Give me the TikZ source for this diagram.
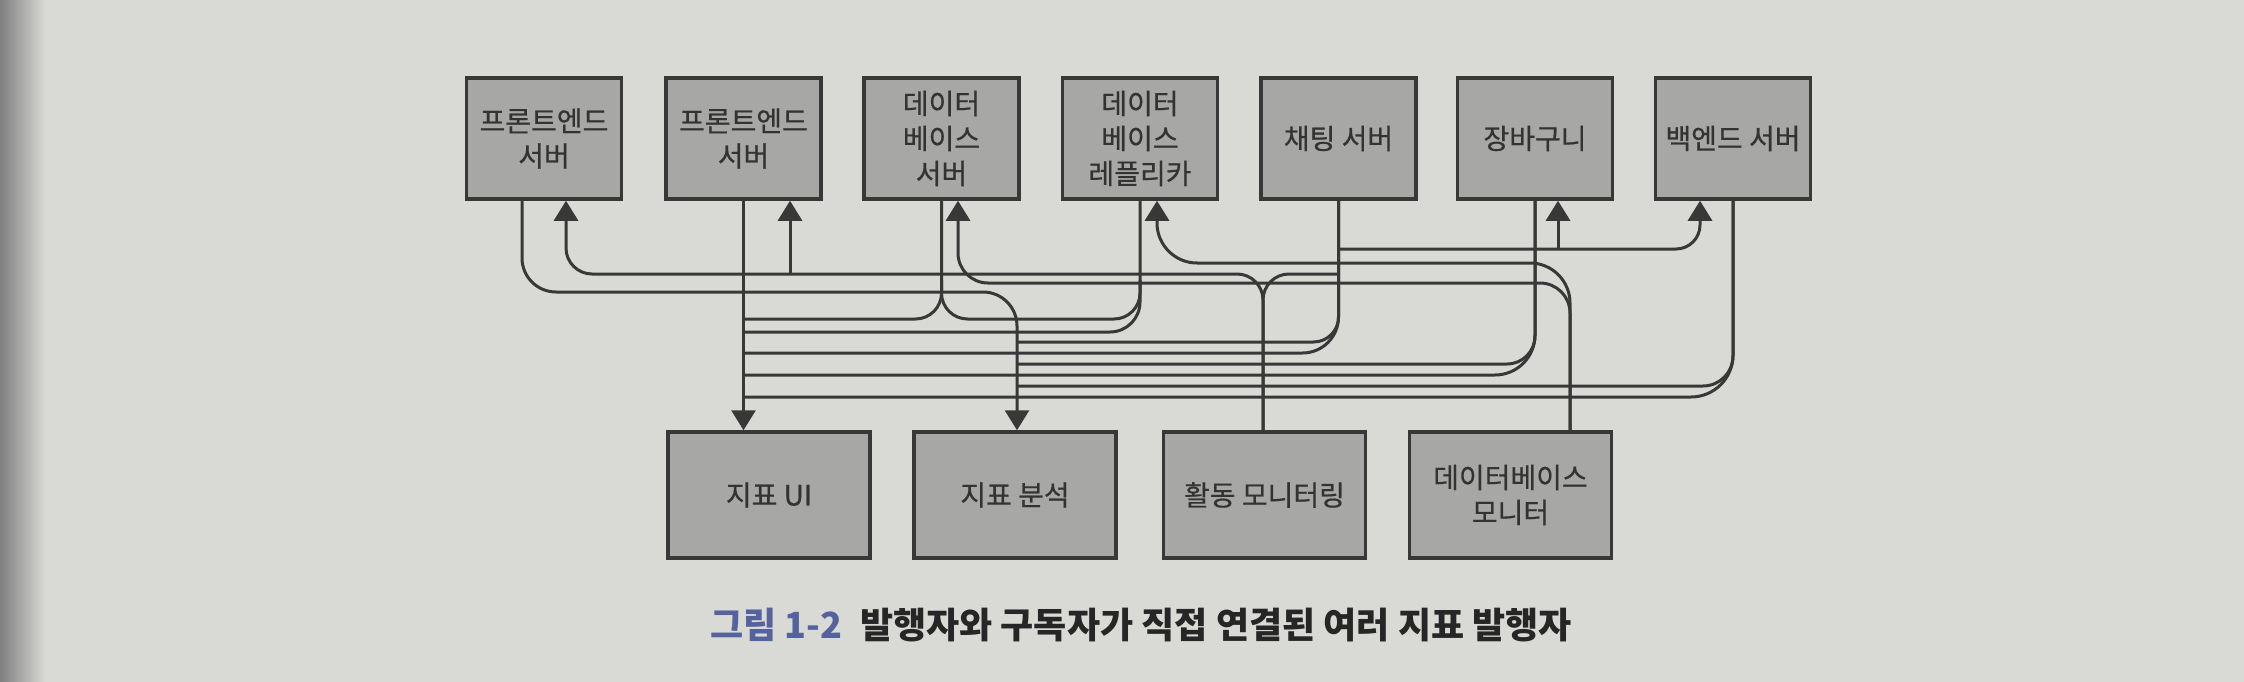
\documentclass[tikz,border=0pt]{standalone}
\usepackage{fontspec}
\usetikzlibrary{arrows.meta}
\newfontfamily\krfont[FakeBold=0.6]{Noto Sans CJK KR}
\newfontfamily\krtitel{Noto Sans CJK KR}
\definecolor{seite}{HTML}{D9D9D5}
\definecolor{kastengrau}{HTML}{A7A7A5}
\definecolor{linie}{HTML}{383838}
\definecolor{bildblau}{HTML}{55639C}

\begin{document}
\begin{tikzpicture}[x=1pt,y=-1pt,
    kasten/.style={draw=linie, line width=3.5pt, fill=kastengrau,
        minimum width=155pt, minimum height=121pt, inner sep=0pt,
        align=center, text=black!80,
        font=\krfont\fontsize{28}{35}\selectfont},
    unten/.style={kasten, minimum width=202pt, minimum height=126pt},
    leitung/.style={draw=linie, line width=3pt},
    pfeil/.style={-{Triangle[length=20pt,width=24pt]}}]
    \useasboundingbox (0,0) rectangle (2244,682);
    % Seite:
    \fill[seite] (0,0) rectangle (2244,682);
    \shade[left color=black!50, right color=seite] (0,0) rectangle (45,682);

    % obere Kästen:
    \node[kasten] (fe1) at (544,138.5) {프론트엔드\\서버};
    \node[kasten] (fe2) at (743.5,138.5) {프론트엔드\\서버};
    \node[kasten] (db) at (941.5,138.5) {데이터\\베이스\\서버};
    \node[kasten] (dbr) at (1140,138.5) {데이터\\베이스\\레플리카};
    \node[kasten] (chat) at (1338.5,138.5) {채팅 서버};
    \node[kasten] (cart) at (1535,138.5) {장바구니};
    \node[kasten] (be) at (1733,138.5) {백엔드 서버};

    % untere Kästen:
    \node[unten] (mui) at (769,495) {지표 UI};
    \node[unten] (man) at (1015,495) {지표 분석};
    \node[unten] (amon) at (1264.5,495) {활동 모니터링};
    \node[unten] (dbmon) at (1510.5,495) {데이터베이스\\모니터};

    % Leitungen nach unten:
    \draw[leitung, rounded corners=34pt, pfeil] ([xshift=-22pt]fe1.south)
        -- (522,292) -- (1017,292) -- ([xshift=2pt]man.north);
    \draw[leitung, pfeil] (fe2.south) -- (fe2.south |- mui.north);
    \draw[leitung, rounded corners=26pt] (db.south) -- (941.5,319) -- (743.5,319);
    \draw[leitung, rounded corners=26pt] (941.5,280) -- (941.5,319)
        -- (1140,319) -- (1140,280);
    \draw[leitung, rounded corners=30pt] (dbr.south) -- (1140,332) -- (743.5,332);
    \draw[leitung, rounded corners=25pt] (chat.south) -- (1338.5,342) -- (1017,342);
    \draw[leitung, rounded corners=36pt] (chat.south) -- (1338.5,353) -- (743.5,353);
    \draw[leitung, rounded corners=28pt] (cart.south) -- (1535,364) -- (1017,364);
    \draw[leitung, rounded corners=40pt] (cart.south) -- (1535,375) -- (743.5,375);
    \draw[leitung, rounded corners=30pt] (be.south) -- (1733,386) -- (1017,386);
    \draw[leitung, rounded corners=42pt] (be.south) -- (1733,397) -- (743.5,397);

    % Leitungen nach oben:
    \draw[leitung, rounded corners=26pt, pfeil] ([xshift=-1.5pt]amon.north)
        -- (1263,274) -- (566,274) -- ([xshift=22pt]fe1.south);
    \draw[leitung, pfeil] (790,274) -- ([xshift=46.5pt]fe2.south);
    \draw[leitung, rounded corners=26pt] ([xshift=-1.5pt]amon.north)
        -- (1263,274) -- (1338.5,274);
    \draw[leitung, rounded corners=24pt, pfeil] (1338.5,249) -- (1700,249)
        -- ([xshift=-33pt]be.south);
    \draw[leitung, pfeil] (1558,249) -- ([xshift=23pt]cart.south);
    \draw[leitung, rounded corners=30pt, pfeil] ([xshift=59.5pt]dbmon.north)
        -- (1570,283) -- (958,283) -- ([xshift=16.5pt]db.south);
    \draw[leitung, rounded corners=40pt, pfeil] ([xshift=59.5pt]dbmon.north)
        -- (1570,263) -- (1157,263) -- ([xshift=17pt]dbr.south);

    % Bildunterschrift:
    \node[font=\krtitel\bfseries\fontsize{36}{42}\selectfont, text=black!85]
        (titel) at (1141,625)
        {\textcolor{bildblau}{그림 1-2}\hspace{18pt}발행자와 구독자가 직접 연결된 여러 지표 발행자};
\end{tikzpicture}
\end{document}
